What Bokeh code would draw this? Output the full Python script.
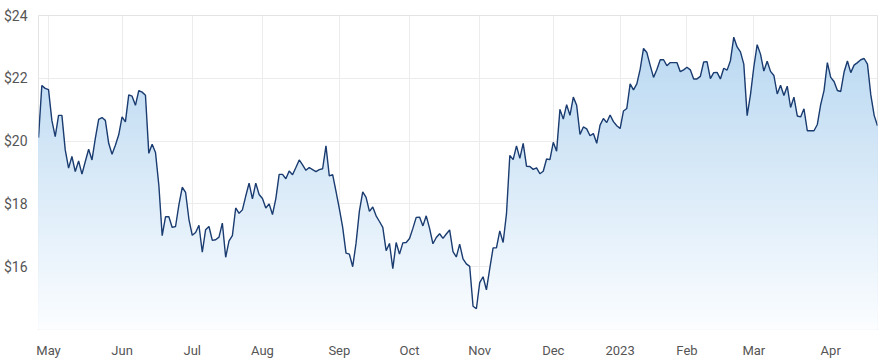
import numpy as np
import pandas as pd
from bokeh.plotting import figure
from bokeh.models import FixedTicker, NumeralTickFormatter, Range1d
from bokeh.embed import file_html
from bokeh.resources import INLINE

# ---- data -------------------------------------------------------------
prices = [
    20.11, 21.77, 21.68, 21.64, 20.66, 20.14, 20.82, 20.82, 19.72, 19.14,
    19.51, 19.03, 19.37, 18.95, 19.35, 19.74, 19.40, 20.09, 20.69, 20.75,
    20.66, 19.93, 19.58, 19.87, 20.20, 20.77, 20.61, 21.47, 21.43, 21.14,
    21.61, 21.56, 21.46, 19.61, 19.90, 19.64, 18.60, 16.99, 17.59, 17.59,
    17.25, 17.28, 17.97, 18.53, 18.37, 17.51, 17.00, 17.09, 17.32, 16.46,
    17.18, 17.28, 16.84, 16.86, 16.94, 17.39, 16.30, 16.82, 16.99, 17.87,
    17.70, 17.81, 18.25, 18.66, 18.16, 18.66, 18.30, 18.17, 17.87, 18.00,
    17.66, 18.17, 18.94, 18.94, 18.80, 19.05, 18.93, 19.16, 19.40, 19.24,
    19.07, 19.16, 19.09, 19.03, 19.09, 19.12, 19.85, 18.89, 18.93, 18.40,
    17.85, 17.25, 16.43, 16.40, 16.00, 16.75, 17.77, 18.38, 18.21, 17.76,
    17.90, 17.62, 17.44, 17.25, 16.51, 16.74, 15.94, 16.77, 16.40, 16.76,
    16.77, 16.90, 17.22, 17.57, 17.58, 17.30, 17.62, 17.22, 16.73, 16.93,
    17.05, 16.90, 17.04, 17.17, 16.48, 16.31, 16.72, 16.25, 16.09, 16.01,
    14.74, 14.66, 15.49, 15.68, 15.26, 15.94, 16.60, 16.60, 17.14, 16.77,
    17.68, 19.54, 19.41, 19.85, 19.45, 19.93, 19.20, 19.19, 19.10, 19.15,
    18.96, 19.04, 19.43, 19.41, 19.96, 19.68, 21.01, 20.70, 21.16, 20.82,
    21.40, 21.14, 20.21, 20.45, 20.39, 20.17, 20.24, 19.93, 20.51, 20.72,
    20.59, 20.83, 20.62, 20.49, 20.40, 20.96, 21.04, 21.82, 21.63, 21.82,
    22.29, 22.95, 22.82, 22.41, 22.03, 22.28, 22.59, 22.59, 22.40, 22.50,
    22.50, 22.50, 22.21, 22.27, 22.35, 22.27, 21.98, 21.98, 22.06, 22.52,
    22.53, 21.99, 22.18, 22.19, 21.98, 22.32, 22.26, 22.56, 23.31, 23.00,
    22.84, 22.45, 20.81, 21.48, 22.36, 23.07, 22.77, 22.23, 22.54, 22.22,
    22.09, 21.50, 21.78, 21.45, 21.75, 21.07, 21.40, 20.80, 20.77, 21.03,
    20.33, 20.33, 20.33, 20.53, 21.16, 21.61, 22.50, 22.03, 21.90, 21.61,
    21.58, 22.20, 22.55, 22.18, 22.42, 22.50, 22.59, 22.63, 22.45, 21.47,
    20.82, 20.49,
]

start_date = "2022-04-27"
end_date = "2023-04-26"
market_holidays = [
    "2022-06-13", "2022-09-22", "2022-12-26", "2022-12-27",
    "2023-01-02", "2023-01-26", "2023-04-07", "2023-04-10", "2023-04-25",
]
y_ticks = [16, 18, 20, 22, 24]
y_min, y_max = 14, 24

# ---- trading calendar -> month ticks ------------------------------------
dates = [d for d in pd.bdate_range(start_date, end_date)
         if d.strftime("%Y-%m-%d") not in market_holidays][:len(prices)]
x = np.arange(len(prices))
tick_idx, tick_lab = [], []
prev = None
for i, d in enumerate(dates):
    key = (d.year, d.month)
    if prev is not None and key != prev:
        tick_idx.append(i)
        tick_lab.append(str(d.year) if d.month == 1 else d.strftime("%b"))
    prev = key

# ---- figure ------------------------------------------------------------
p = figure(width=895, height=360, output_backend="svg", toolbar_location=None,
           x_range=Range1d(0, len(prices) - 1), y_range=Range1d(y_min, y_max),
           min_border_left=38, min_border_right=18, min_border_top=15,
           min_border_bottom=26)
p.background_fill_color = "white"
p.border_fill_color = "white"
p.outline_line_color = "#e3e3e3"

# gradient area (stacked bands, drawn top band first)
pr = np.array(prices)
top_rgb = np.array([180, 213, 240])
bot_rgb = np.array([251, 253, 255])
n_bands = 80
edges = np.linspace(y_min, y_max, n_bands + 1)[1:]
step = (y_max - y_min) / n_bands
for e in edges[::-1]:
    t = (e - 0.5 * step - y_min) / (y_max - y_min)
    c = bot_rgb + (top_rgb - bot_rgb) * t
    col = "#%02x%02x%02x" % tuple(int(round(v)) for v in c)
    p.varea(x=x, y1=y_min, y2=np.minimum(pr, e), fill_color=col, fill_alpha=1.0)

p.line(x, pr, line_color="#1b3c70", line_width=1.4)

# axes
p.yaxis.ticker = FixedTicker(ticks=y_ticks)
p.yaxis.formatter = NumeralTickFormatter(format="$0")
p.xaxis.ticker = FixedTicker(ticks=tick_idx)
p.xaxis.major_label_overrides = {int(i): lab for i, lab in zip(tick_idx, tick_lab)}
for ax in (p.xaxis, p.yaxis):
    ax.axis_line_color = None
    ax.major_tick_line_color = None
    ax.minor_tick_line_color = None
    ax.major_label_text_font = "Roboto"
    ax.major_label_text_color = "#555555"
p.yaxis.major_label_text_font_size = "14px"
p.xaxis.major_label_text_font_size = "13px"
p.yaxis.major_label_standoff = 5
p.xaxis.major_label_standoff = 7

p.xgrid.ticker = FixedTicker(ticks=tick_idx)
p.ygrid.ticker = FixedTicker(ticks=y_ticks)
p.xgrid.grid_line_color = "#ececec"
p.ygrid.grid_line_color = "#ececec"
p.xgrid.level = "underlay"

open("out.html", "w").write(file_html(p, INLINE))
